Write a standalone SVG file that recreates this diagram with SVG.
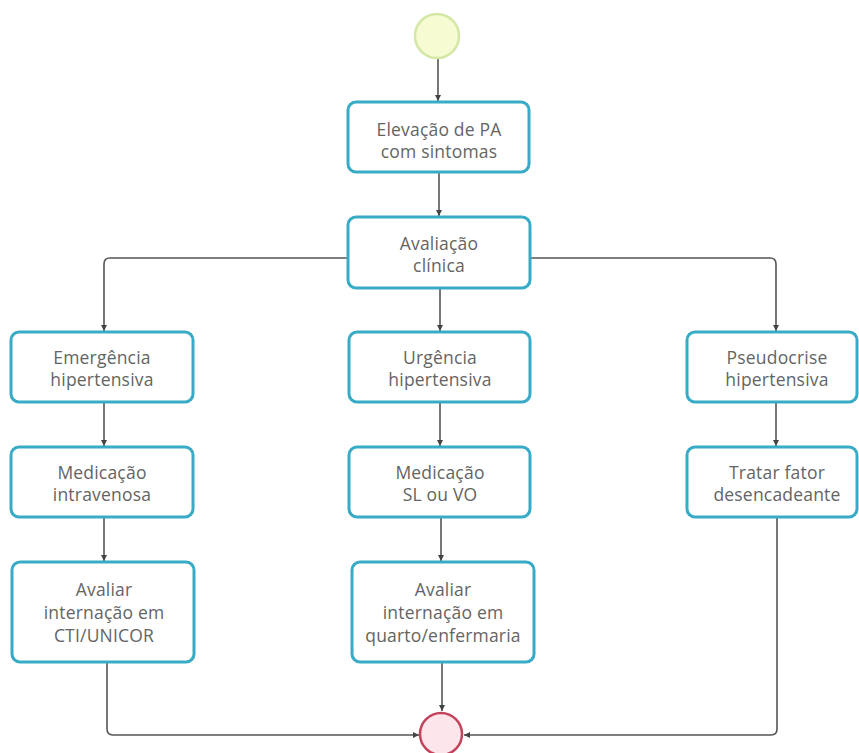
<svg xmlns="http://www.w3.org/2000/svg" width="859" height="753" viewBox="0 0 859 753">
  <style>
    .box { fill: #ffffff; stroke: #38abc7; stroke-width: 3; }
    .lbl { font-family: "Open Sans", "Liberation Sans", sans-serif; font-size: 17.5px; fill: #646464; text-anchor: middle; letter-spacing: 0.2px; }
    .edge { fill: none; stroke: #555555; stroke-width: 1.6; marker-end: url(#arrow); }
  </style>
  <defs>
    <marker id="arrow" viewBox="0 0 10 10" refX="10" refY="5" markerWidth="6" markerHeight="6" markerUnits="userSpaceOnUse" orient="auto">
      <path d="M0,0 L10,5 L0,10 z" fill="#444444"/>
    </marker>
  </defs>
  <rect width="859" height="753" fill="#ffffff"/>

  <g id="connectors">
    <path class="edge" d="M438,59 V101"/>
    <path class="edge" d="M439,172 V216"/>
    <path class="edge" d="M348,258 H110 Q104,258 104,264 V331"/>
    <path class="edge" d="M440,288 V331"/>
    <path class="edge" d="M530,258 H770 Q776,258 776,264 V331"/>
    <path class="edge" d="M104,402 V446"/>
    <path class="edge" d="M440,402 V446"/>
    <path class="edge" d="M776,402 V446"/>
    <path class="edge" d="M104,517 V561"/>
    <path class="edge" d="M441,517 V561"/>
    <path class="edge" d="M107,662 V729 Q107,735 113,735 H419"/>
    <path class="edge" d="M442,662 V711"/>
    <path class="edge" d="M777,517 V729 Q777,735 771,735 H464"/>
  </g>

  <g id="start">
    <circle cx="437" cy="36" r="22" fill="#f6fbd2" stroke="#d3e8a6" stroke-width="2.5"/>
  </g>

  <g id="elevacao">
    <rect class="box" x="348" y="102" width="181" height="70" rx="8"/>
    <text class="lbl" x="439" y="136">Elevação de PA</text>
    <text class="lbl" x="439" y="158">com sintomas</text>
  </g>

  <g id="avaliacao">
    <rect class="box" x="348" y="217" width="182" height="71" rx="8"/>
    <text class="lbl" x="439" y="250">Avaliação</text>
    <text class="lbl" x="439" y="272">clínica</text>
  </g>

  <g id="emergencia">
    <rect class="box" x="11" y="332" width="182" height="70" rx="8"/>
    <text class="lbl" x="102" y="364">Emergência</text>
    <text class="lbl" x="102" y="386">hipertensiva</text>
  </g>

  <g id="urgencia">
    <rect class="box" x="349" y="332" width="181" height="70" rx="8"/>
    <text class="lbl" x="440" y="364">Urgência</text>
    <text class="lbl" x="440" y="386">hipertensiva</text>
  </g>

  <g id="pseudocrise">
    <rect class="box" x="687" y="332" width="170" height="70" rx="8"/>
    <text class="lbl" x="777" y="364">Pseudocrise</text>
    <text class="lbl" x="777" y="386">hipertensiva</text>
  </g>

  <g id="med-iv">
    <rect class="box" x="11" y="447" width="182" height="70" rx="8"/>
    <text class="lbl" x="102" y="479">Medicação</text>
    <text class="lbl" x="102" y="501">intravenosa</text>
  </g>

  <g id="med-slvo">
    <rect class="box" x="349" y="447" width="181" height="70" rx="8"/>
    <text class="lbl" x="440" y="479">Medicação</text>
    <text class="lbl" x="440" y="501">SL ou VO</text>
  </g>

  <g id="tratar">
    <rect class="box" x="687" y="447" width="170" height="70" rx="8"/>
    <text class="lbl" x="777" y="479">Tratar fator</text>
    <text class="lbl" x="777" y="501">desencadeante</text>
  </g>

  <g id="avaliar-cti">
    <rect class="box" x="12" y="562" width="182" height="100" rx="8"/>
    <text class="lbl" x="104" y="596">Avaliar</text>
    <text class="lbl" x="104" y="619">internação em</text>
    <text class="lbl" x="104" y="642">CTI/UNICOR</text>
  </g>

  <g id="avaliar-quarto">
    <rect class="box" x="352" y="562" width="182" height="100" rx="8"/>
    <text class="lbl" x="443" y="596">Avaliar</text>
    <text class="lbl" x="443" y="619">internação em</text>
    <text class="lbl" x="443" y="642">quarto/enfermaria</text>
  </g>

  <g id="end">
    <circle cx="441" cy="734" r="21" fill="#fce6ec" stroke="#c4435c" stroke-width="2.5"/>
  </g>
</svg>
